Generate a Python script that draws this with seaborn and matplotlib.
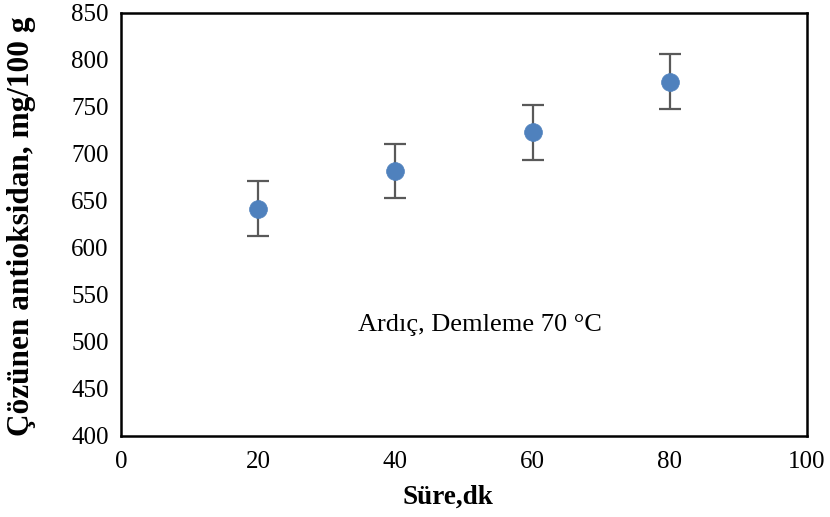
import matplotlib
matplotlib.use("Agg")
import matplotlib.pyplot as plt
import seaborn as sns
import pandas as pd

# Brewing time (min) and dissolved antioxidant (mg/100 g) with error
sure_dk = [20, 40, 60, 80]
antioksidan = [642, 682, 723, 777]
hata = [29, 29, 29, 29]

x_ticks = [0, 20, 40, 60, 80, 100]
y_ticks = [400, 450, 500, 550, 600, 650, 700, 750, 800, 850]

sns.set_style("white")
plt.rcParams["font.family"] = ["Liberation Serif", "DejaVu Serif"]
plt.rcParams["text.color"] = "black"

df = pd.DataFrame({"sure": sure_dk, "antioksidan": antioksidan, "hata": hata})

fig = plt.figure(figsize=(8.3, 5.17), dpi=100)
ax = fig.add_axes([0.1458, 0.1567, 0.8265, 0.8182])

ax.errorbar(df["sure"], df["antioksidan"], yerr=df["hata"], fmt="none",
            ecolor="#595959", elinewidth=1.6, capsize=8, capthick=1.6, zorder=2)
sns.scatterplot(data=df, x="sure", y="antioksidan", ax=ax, s=165,
                color="#4F81BD", edgecolor="#4F81BD", linewidth=0.5, zorder=3)

ax.set_xlim(0, 100)
ax.set_ylim(400, 850)
ax.set_xticks(x_ticks)
ax.set_yticks(y_ticks)
ax.tick_params(axis="both", direction="out", length=6, width=1.5,
               labelsize=18, colors="black", labelcolor="black", pad=3)
ax.tick_params(axis="x", pad=5)
for sp in ax.spines.values():
    sp.set_visible(True)
    sp.set_color("black")
    sp.set_linewidth(1.8)

ax.set_xlabel("")
ax.set_ylabel("")
fig.text(448 / 830, 1 - 497 / 517, "Süre,dk", fontsize=19.5,
         fontweight="bold", ha="center", va="center", color="black")
fig.text(22 / 830, 1 - 226 / 517, "Çözünen antioksidan, mg/100 g",
         fontsize=22.5, fontweight="bold", rotation=90, ha="center",
         va="center", color="black")

ax.text(52.3, 518, "Ardıç, Demleme 70 °C", fontsize=19, ha="center",
        va="center", color="black")

fig.savefig("out.png", dpi=100)
